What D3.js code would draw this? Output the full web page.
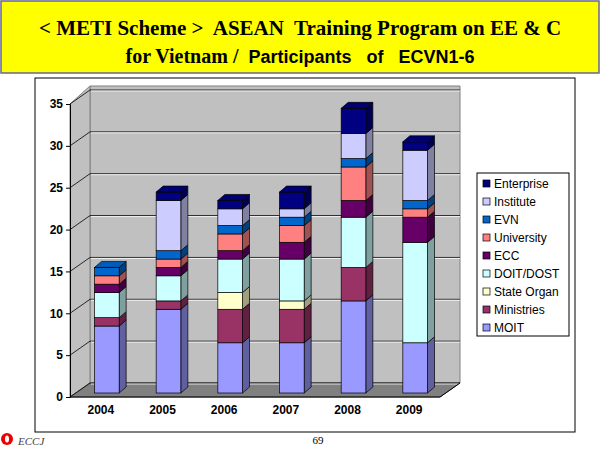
<!DOCTYPE html><html><head><meta charset="utf-8">
<script src="https://cdn.jsdelivr.net/npm/d3@7"></script>
<style>body{margin:0;background:#fff}svg{display:block}text{white-space:pre}</style></head><body>
<svg id="c" width="600" height="450"></svg>
<script>
const years=["2004","2005","2006","2007","2008","2009"];
const seriesNames=["MOIT","Ministries","State Organ","DOIT/DOST","ECC","University","EVN","Institute","Enterprise"];
const MOIT=[8,10,6,6,11,6];
const Ministries=[1,1,4,4,4,0];
const StateOrgan=[0,0,2,1,0,0];
const DOIT=[3,3,4,5,6,12];
const ECC=[1,1,1,2,2,3];
const University=[1,1,2,2,4,1];
const EVN=[1,1,1,1,1,1];
const Institute=[0,6,2,1,3,6];
const Enterprise=[0,1,1,2,3,1];
const yTicks=[0,5,10,15,20,25,30,35];
const values=[MOIT,Ministries,StateOrgan,DOIT,ECC,University,EVN,Institute,Enterprise];
const colors=["#9999ff","#993366","#ffffcc","#ccffff","#660066","#ff8080","#0066cc","#ccccff","#000080"];

const svg=d3.select("#c");
svg.append("rect").attr("x",1).attr("y",1).attr("width",598).attr("height",72).attr("fill","#ffff00").attr("stroke","#666699").attr("stroke-width",1.5);
svg.append("text").attr("x",300).attr("y",35).attr("text-anchor","middle").attr("font-family","Liberation Serif").attr("font-weight","bold").attr("font-size",21).text("< METI Scheme >  ASEAN  Training Program on EE & C");
svg.append("text").attr("x",300).attr("y",63).attr("text-anchor","middle").attr("font-weight","bold").attr("font-size",20)
 .call(t=>{t.append("tspan").attr("font-family","Liberation Serif").text("for Vietnam /  ");t.append("tspan").attr("font-family","Liberation Sans").attr("font-size",18).text("Participants   of   ECVN1-6");});
svg.append("rect").attr("x",35).attr("y",78).attr("width",540).attr("height",354).attr("fill","#fff").attr("stroke","#000");

const x0=70,x1=440,dx=20,dy=-14;
const x=d3.scaleBand().domain(years).range([x0,x1]).paddingInner(0.6).paddingOuter(0.3);
const y=d3.scaleLinear().domain([0,35]).range([397,104]);
const g=svg.append("g");
g.append("polygon").attr("points",[[x0+dx,y(35)+dy-4],[x1+dx,y(35)+dy-4],[x1+dx,y(0)+dy],[x0+dx,y(0)+dy]].join(" ")).attr("fill","#c0c0c0").attr("stroke","#808080");
g.append("polygon").attr("points",[[x0,y(35)],[x0+dx,y(35)+dy-4],[x0+dx,y(0)+dy],[x0,y(0)]].join(" ")).attr("fill","#c0c0c0").attr("stroke","#808080");
g.append("polygon").attr("points",[[x0,y(0)],[x0+dx,y(0)+dy],[x1+dx,y(0)+dy],[x1,y(0)]].join(" ")).attr("fill","#808080").attr("stroke","#606060");
yTicks.forEach(t=>{
 g.append("polyline").attr("points",[[x0,y(t)],[x0+dx,y(t)+dy],[x1+dx,y(t)+dy]].join(" ")).attr("fill","none").attr("stroke","#000").attr("stroke-width",0.8);
 g.append("polyline").attr("points",[[x0+dx+1,y(t)+dy+1],[x1+dx,y(t)+dy+1]].join(" ")).attr("fill","none").attr("stroke","#fff").attr("stroke-width",0.8);
});
const yAxis=svg.append("g").attr("transform",`translate(${x0},0)`).call(d3.axisLeft(y).tickValues(yTicks).tickSize(4));
yAxis.selectAll("text").attr("font-family","Liberation Sans").attr("font-size",12).attr("font-weight","bold");
const xAxis=svg.append("g").attr("transform",`translate(0,${y(0)})`).call(d3.axisBottom(x).tickSize(0).tickPadding(8));
xAxis.selectAll("text").attr("font-family","Liberation Sans").attr("font-size",12).attr("font-weight","bold");
xAxis.select(".domain").remove();
svg.append("line").attr("x1",x0).attr("x2",x1).attr("y1",y(0)).attr("y2",y(0)).attr("stroke","#000");
svg.append("line").attr("x1",x1).attr("x2",x1+dx).attr("y1",y(0)).attr("y2",y(0)+dy).attr("stroke","#000");

const bdx=7,bdy=-6,ox=6,oy=-4;
const shade=(c,k)=>d3.color(c).darker(k).formatHex();
years.forEach((yr,i)=>{
 let acc=0;const bx=x(yr)+ox,bw=x.bandwidth();
 const segs=[];
 values.forEach((s,j)=>{const v=s[i];if(v>0){segs.push({j,a:acc,b:acc+v});}acc+=v;});
 segs.forEach((s,k)=>{
  const c=colors[s.j],ya=y(s.a)+oy,yb=y(s.b)+oy;
  g.append("polygon").attr("points",[[bx+bw,yb],[bx+bw+bdx,yb+bdy],[bx+bw+bdx,ya+bdy],[bx+bw,ya]].join(" ")).attr("fill",shade(c,1.3)).attr("stroke","#000").attr("stroke-width",0.7);
  g.append("rect").attr("x",bx).attr("y",yb).attr("width",bw).attr("height",ya-yb).attr("fill",c).attr("stroke","#000").attr("stroke-width",0.7);
  if(k===segs.length-1)
   g.append("polygon").attr("points",[[bx,yb],[bx+bdx,yb+bdy],[bx+bw+bdx,yb+bdy],[bx+bw,yb]].join(" ")).attr("fill",shade(c,0.3)).attr("stroke","#000").attr("stroke-width",0.7);
 });
});

const lg=svg.append("g");
lg.append("rect").attr("x",477).attr("y",173).attr("width",92).attr("height",163).attr("fill","#fff").attr("stroke","#000");
seriesNames.slice().reverse().forEach((n,k)=>{
 const j=seriesNames.length-1-k;
 lg.append("rect").attr("x",483).attr("y",180+k*18).attr("width",7).attr("height",7).attr("fill",colors[j]).attr("stroke","#000").attr("stroke-width",0.7);
 lg.append("text").attr("x",494).attr("y",188+k*18).attr("font-family","Liberation Sans").attr("font-size",12).text(n);
});
svg.append("circle").attr("cx",7).attr("cy",439).attr("r",6).attr("fill","#e00");
svg.append("ellipse").attr("cx",7).attr("cy",439).attr("rx",2).attr("ry",3.5).attr("fill","#fff");
svg.append("text").attr("x",18).attr("y",445).attr("font-family","Liberation Serif").attr("font-style","italic").attr("font-size",11).attr("fill","#444").text("ECCJ");
svg.append("text").attr("x",318).attr("y",444).attr("text-anchor","middle").attr("font-family","Liberation Serif").attr("font-size",11).text("69");
</script></body></html>
